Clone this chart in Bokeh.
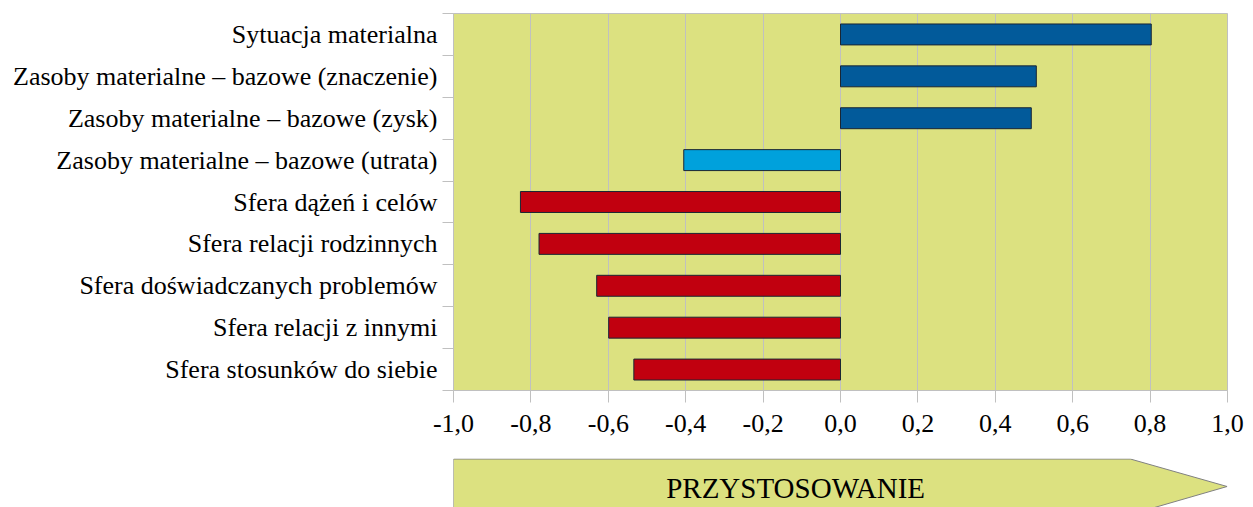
from bokeh.plotting import figure
from bokeh.layouts import column
from bokeh.models import FixedTicker, Range1d, ColumnDataSource, CustomJSTickFormatter
from bokeh.core.properties import value
from bokeh.embed import file_html
from bokeh.resources import INLINE

categories = [
    "Sytuacja materialna",
    "Zasoby materialne – bazowe (znaczenie)",
    "Zasoby materialne – bazowe (zysk)",
    "Zasoby materialne – bazowe (utrata)",
    "Sfera dążeń i celów",
    "Sfera relacji rodzinnych",
    "Sfera doświadczanych problemów",
    "Sfera relacji z innymi",
    "Sfera stosunków do siebie",
]
values = [0.803, 0.506, 0.493, -0.405, -0.827, -0.779, -0.630, -0.599, -0.534]
bar_colors = ["#025a9a", "#025a9a", "#025a9a", "#00a1dc",
              "#c1000f", "#c1000f", "#c1000f", "#c1000f", "#c1000f"]
x_ticks = [-1.0, -0.8, -0.6, -0.4, -0.2, 0.0, 0.2, 0.4, 0.6, 0.8, 1.0]
arrow_label = "PRZYSTOSOWANIE"

FONT = "Liberation Serif"
BG = "#dce180"
GRID = "#c0c0c0"
W = 1250

n = len(categories)
ypos = [n - 1 - i for i in range(n)]
src = ColumnDataSource(dict(y=ypos, right=values, color=bar_colors, name=categories))

p = figure(width=W, height=458, output_backend="svg", toolbar_location=None,
           x_range=Range1d(-1.0, 1.0), y_range=Range1d(-0.5, n - 0.5),
           min_border_left=453, min_border_right=W - 1227, min_border_top=13,
           min_border_bottom=68)
p.background_fill_color = BG
p.border_fill_color = "white"
p.outline_line_color = GRID
p.outline_line_width = 1

p.hbar(y="y", left=0, right="right", height=0.5, fill_color="color",
       line_color="#1a2633", line_width=1, source=src)

# x axis
p.xaxis.ticker = FixedTicker(ticks=x_ticks, minor_ticks=[])
p.xaxis.formatter = CustomJSTickFormatter(code="return tick.toFixed(1).replace('.', ',');")
p.xaxis.major_tick_out = 12
p.xaxis.major_tick_in = 0
p.xaxis.minor_tick_out = 0
p.xaxis.minor_tick_in = 0
p.xaxis.axis_line_color = GRID
p.xaxis.major_tick_line_color = GRID
p.xaxis.major_label_text_font = FONT
p.xaxis.major_label_text_font_size = "26px"
p.xaxis.major_label_text_color = "black"
p.xaxis.major_label_standoff = 12

# y axis
p.yaxis.ticker = FixedTicker(ticks=ypos, minor_ticks=[k - 0.5 for k in range(n + 1)])
p.yaxis.major_label_overrides = {ypos[i]: categories[i] for i in range(n)}
p.yaxis.major_tick_out = 0
p.yaxis.major_tick_in = 0
p.yaxis.minor_tick_out = 11
p.yaxis.minor_tick_in = 0
p.yaxis.minor_tick_line_color = GRID
p.yaxis.axis_line_color = GRID
p.yaxis.major_label_text_font = FONT
p.yaxis.major_label_text_font_size = "26px"
p.yaxis.major_label_text_color = "black"
p.yaxis.major_label_standoff = 5

p.xgrid.ticker = FixedTicker(ticks=x_ticks)
p.xgrid.grid_line_color = GRID
p.ygrid.grid_line_color = None

# bottom arrow (its frame is aligned with the chart frame by the column layout)
q = figure(width=W, height=49, output_backend="svg", toolbar_location=None,
           x_range=Range1d(-1.0, 1.0), y_range=Range1d(507, 458),
           x_axis_type=None, y_axis_type=None,
           min_border_left=453, min_border_right=W - 1227,
           min_border_top=0, min_border_bottom=0)
q.outline_line_color = None
q.background_fill_color = "white"
q.border_fill_color = "white"
q.xgrid.visible = False
q.ygrid.visible = False
q.patch([-1.0, 0.749, 0.999, 0.749, -1.0], [458.5, 458.5, 486, 514, 514],
        fill_color=BG, line_color="#808080", line_width=1)
q.text(x=[-0.116], y=[487], text=[arrow_label], text_font=value(FONT),
       text_font_size="29px", text_align="center", text_baseline="middle",
       text_color="black")

layout = column(p, q, spacing=0)
open("out.html", "w").write(file_html(layout, INLINE))
